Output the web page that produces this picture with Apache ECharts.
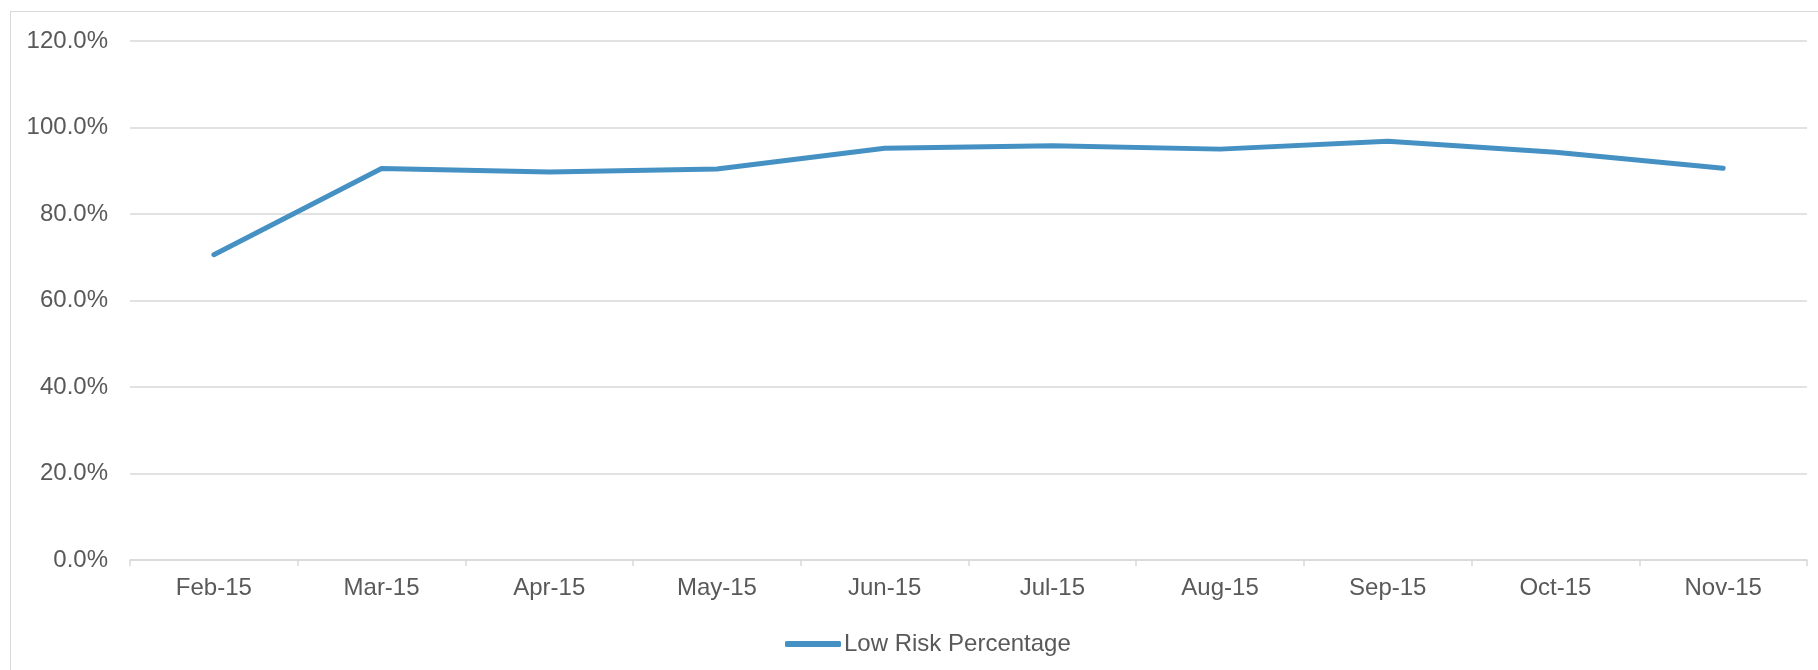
<!DOCTYPE html>
<html>
<head>
<meta charset="utf-8">
<title>Low Risk Percentage</title>
<script src="https://cdn.jsdelivr.net/npm/echarts@6/dist/echarts.min.js"></script>
<style>
  body { margin: 0; background: #fff; }
  #frame { position: absolute; left: 10px; top: 11px; width: 1830px; height: 700px; border: 1px solid #d9d9d9; }
  #main { position: absolute; left: 0; top: 0; width: 1818px; height: 670px; }
</style>
</head>
<body>
<div id="frame"></div>
<div id="main"></div>
<script>
var months = ['Feb-15', 'Mar-15', 'Apr-15', 'May-15', 'Jun-15', 'Jul-15', 'Aug-15', 'Sep-15', 'Oct-15', 'Nov-15'];
var lowRisk = [70.6, 90.5, 89.7, 90.4, 95.2, 95.8, 95.0, 96.8, 94.3, 90.6];

var chart = echarts.init(document.getElementById('main'));
var labelFont = { color: '#595959', fontSize: 24, fontFamily: 'Liberation Sans, Arial, sans-serif' };

chart.setOption({
  animation: false,
  grid: { left: 130, right: 11, top: 41, bottom: 110, containLabel: false },
  legend: {
    left: 780, top: 627,
    itemWidth: 56, itemHeight: 6, itemGap: 0,
    icon: 'roundRect',
    textStyle: Object.assign({ padding: [0, 0, 0, -2] }, labelFont),
    data: ['Low Risk Percentage']
  },
  xAxis: {
    type: 'category',
    data: months,
    boundaryGap: true,
    axisLine: { lineStyle: { color: '#d9d9d9', width: 1.5 } },
    axisTick: { show: true, length: 6, lineStyle: { color: '#d9d9d9', width: 1.5 } },
    axisLabel: Object.assign({ margin: 16 }, labelFont)
  },
  yAxis: {
    type: 'value',
    min: 0, max: 120, interval: 20,
    axisLine: { show: false },
    axisTick: { show: false },
    splitLine: { lineStyle: { color: '#d9d9d9', width: 1.5 } },
    axisLabel: Object.assign({ margin: 22, padding: [3, 0, 0, 0], formatter: function (v) { return v.toFixed(1) + '%'; } }, labelFont)
  },
  series: [{
    name: 'Low Risk Percentage',
    type: 'line',
    data: lowRisk,
    symbol: 'none',
    lineStyle: { color: '#4591c3', width: 5, cap: 'round', join: 'round' },
    itemStyle: { color: '#4591c3' }
  }]
});
</script>
</body>
</html>
